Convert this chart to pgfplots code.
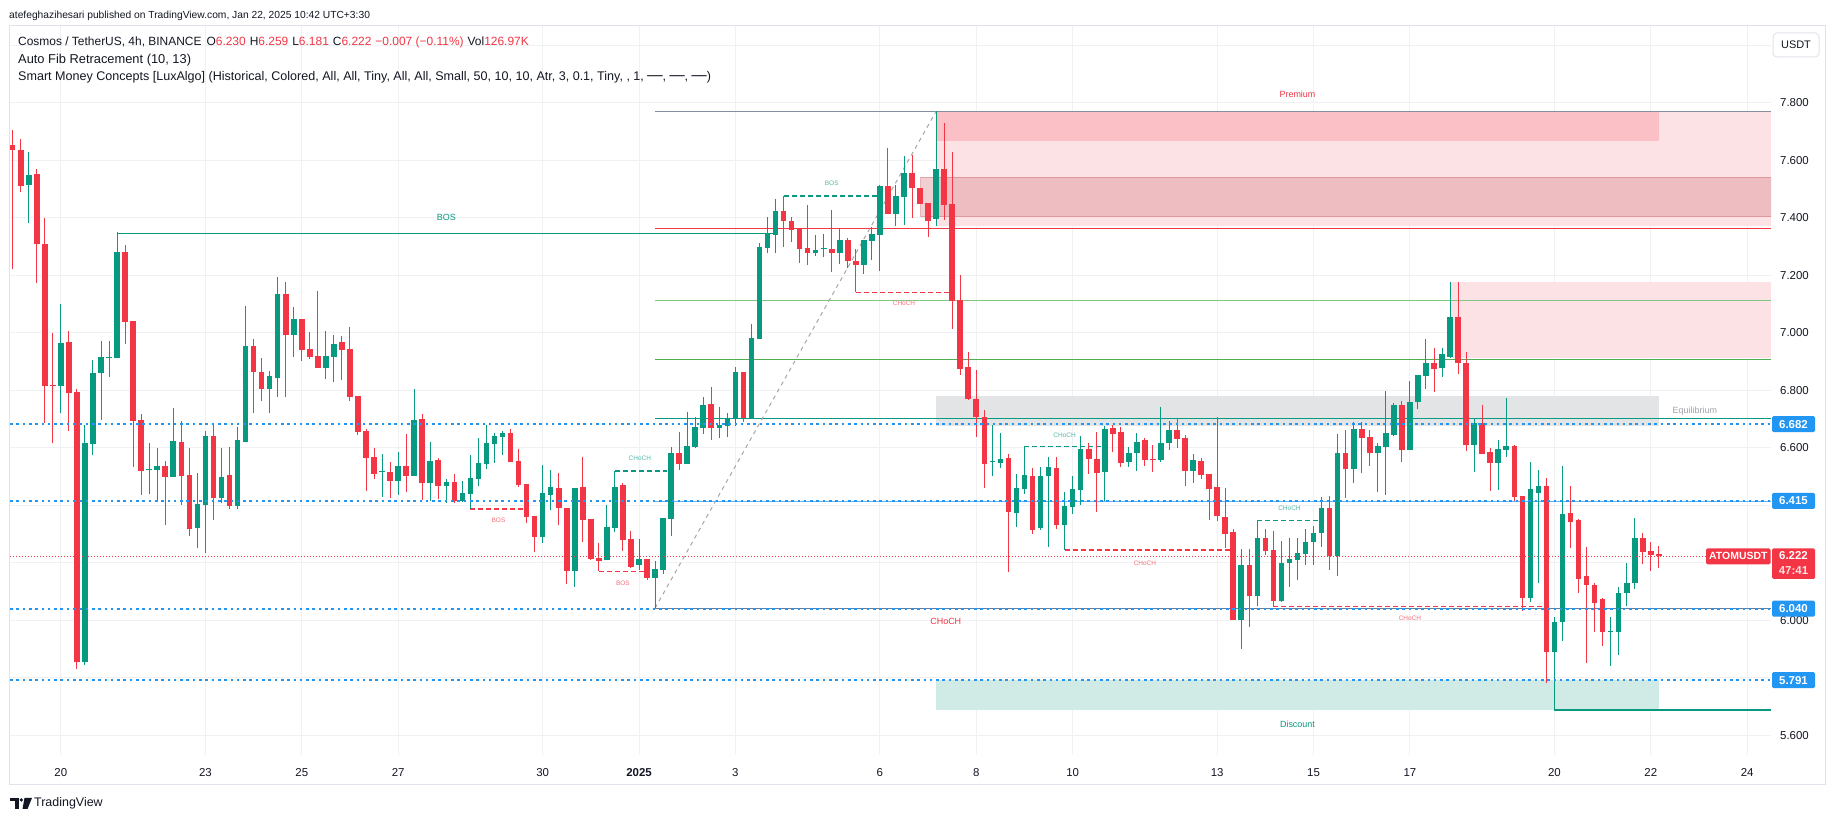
\documentclass[border=0pt]{standalone}
\usepackage{pgfplots}
\pgfplotsset{compat=1.18}
\usepackage{pgfplotstable}
\usepackage{fontspec}
\setmainfont{Liberation Sans}
\newfontfamily\dejavu{DejaVu Sans}
\newcommand{\fs}[1]{\fontsize{#1}{#1}\selectfont}
\definecolor{bull}{RGB}{8,153,129}
\definecolor{bear}{RGB}{242,54,69}
\definecolor{tvblue}{RGB}{33,150,243}
\definecolor{txt}{RGB}{19,23,34}
\definecolor{gridc}{RGB}{240,241,244}
\definecolor{framec}{RGB}{224,227,235}
\definecolor{obpink}{RGB}{252,226,228}
\definecolor{prem}{RGB}{250,192,197}
\definecolor{eqgray}{RGB}{227,228,230}
\definecolor{disc}{RGB}{208,235,229}
\definecolor{fibgray}{RGB}{135,142,160}
\definecolor{fiblgreen}{RGB}{129,199,132}
\definecolor{fibgreen}{RGB}{76,175,80}
\definecolor{fibblue}{RGB}{100,181,246}
\definecolor{mauve}{RGB}{214,130,136}
\definecolor{eqtext}{RGB}{160,163,171}

\pgfplotstableread{
x o h l c
-4 7.514 7.629 7.383 7.549
0 6.816 7.100 6.720 6.963
3 5.856 6.679 5.844 6.617
4 6.614 6.905 6.575 6.860
5 6.860 6.971 6.696 6.916
6 6.914 6.971 6.847 6.916
7 6.913 7.350 6.913 7.280
11 6.522 6.618 6.439 6.523
12 6.523 6.599 6.416 6.537
14 6.498 6.739 6.498 6.624
17 6.321 6.513 6.251 6.404
18 6.401 6.660 6.234 6.642
20 6.425 6.599 6.406 6.498
22 6.397 6.672 6.387 6.627
23 6.621 7.093 6.621 6.954
26 6.804 6.867 6.720 6.851
27 6.844 7.194 6.778 7.135
29 6.992 7.089 6.917 7.047
33 6.878 7.006 6.839 6.919
34 6.917 6.992 6.830 6.961
40 6.515 6.578 6.430 6.517
42 6.486 6.585 6.436 6.537
44 6.503 6.804 6.503 6.697
46 6.477 6.620 6.416 6.554
48 6.467 6.491 6.408 6.481
50 6.415 6.484 6.411 6.443
51 6.439 6.575 6.387 6.495
52 6.491 6.634 6.467 6.547
53 6.544 6.679 6.526 6.617
54 6.613 6.652 6.547 6.641
55 6.638 6.658 6.575 6.652
60 6.290 6.540 6.269 6.443
61 6.436 6.523 6.383 6.464
64 6.171 6.460 6.116 6.460
68 6.210 6.401 6.210 6.324
69 6.321 6.519 6.307 6.464
72 6.192 6.283 6.175 6.213
74 6.147 6.206 6.042 6.178
75 6.175 6.356 6.161 6.356
76 6.352 6.603 6.293 6.582
78 6.544 6.725 6.544 6.606
79 6.603 6.707 6.599 6.672
80 6.669 6.777 6.648 6.749
82 6.669 6.742 6.634 6.679
83 6.676 6.721 6.638 6.700
84 6.702 6.882 6.676 6.863
86 6.705 7.030 6.705 6.982
87 6.979 7.314 6.979 7.300
88 7.296 7.404 7.279 7.344
89 7.340 7.467 7.279 7.424
94 7.277 7.340 7.268 7.289
95 7.293 7.344 7.265 7.295
97 7.277 7.362 7.240 7.322
100 7.237 7.322 7.206 7.322
101 7.320 7.367 7.254 7.344
102 7.341 7.513 7.216 7.510
104 7.415 7.514 7.373 7.476
105 7.474 7.615 7.376 7.556
109 7.397 7.771 7.373 7.570
116 6.550 6.679 6.500 6.554
117 6.548 6.652 6.531 6.561
119 6.374 6.509 6.325 6.460
120 6.458 6.603 6.440 6.505
122 6.319 6.533 6.315 6.502
123 6.500 6.568 6.256 6.533
125 6.332 6.446 6.244 6.397
126 6.395 6.502 6.371 6.457
127 6.453 6.641 6.401 6.596
130 6.516 6.676 6.415 6.665
133 6.551 6.603 6.533 6.582
134 6.582 6.652 6.519 6.620
137 6.557 6.742 6.551 6.617
138 6.617 6.693 6.592 6.662
141 6.519 6.578 6.477 6.557
147 5.999 6.248 5.900 6.193
149 6.085 6.347 6.050 6.286
152 6.067 6.275 6.064 6.198
153 6.198 6.286 6.116 6.212
154 6.209 6.286 6.139 6.233
155 6.230 6.318 6.192 6.272
156 6.272 6.328 6.192 6.303
157 6.304 6.429 6.255 6.391
159 6.223 6.649 6.153 6.581
161 6.526 6.688 6.476 6.665
164 6.583 6.615 6.447 6.607
165 6.603 6.797 6.435 6.652
166 6.644 6.757 6.641 6.750
168 6.592 6.832 6.592 6.759
169 6.759 6.853 6.736 6.853
170 6.849 6.978 6.804 6.895
172 6.876 6.947 6.846 6.926
173 6.916 7.177 6.912 7.055
176 6.610 6.700 6.516 6.686
179 6.548 6.627 6.453 6.595
180 6.593 6.773 6.569 6.606
183 6.076 6.550 6.064 6.456
184 6.442 6.521 6.128 6.466
186 5.890 6.012 5.687 5.994
187 5.992 6.536 5.928 6.369
193 5.957 6.012 5.841 5.959
194 5.957 6.117 5.880 6.096
195 6.096 6.199 6.050 6.129
196 6.128 6.355 6.110 6.286
}\bulltab

\pgfplotstableread{
x o h l c
-6 7.654 7.706 7.222 7.636
-5 7.636 7.674 7.491 7.512
-3 7.553 7.570 7.174 7.309
-2 7.309 7.401 6.685 6.816
-1 6.818 6.998 6.618 6.816
1 6.967 7.006 6.660 6.792
2 6.793 6.804 5.831 5.856
8 7.280 7.306 6.961 7.039
9 7.040 7.040 6.534 6.694
10 6.696 6.717 6.436 6.520
13 6.537 6.555 6.331 6.498
15 6.620 6.693 6.401 6.502
16 6.505 6.599 6.293 6.317
19 6.641 6.682 6.350 6.425
21 6.505 6.603 6.387 6.397
24 6.954 6.978 6.722 6.865
25 6.865 6.913 6.764 6.804
28 7.135 7.177 6.778 6.992
30 7.047 7.047 6.903 6.940
31 6.943 7.003 6.910 6.917
32 6.919 7.145 6.878 6.878
35 6.967 6.989 6.836 6.940
36 6.943 7.020 6.764 6.778
37 6.780 6.780 6.645 6.656
38 6.658 6.667 6.450 6.566
39 6.568 6.598 6.491 6.509
41 6.516 6.551 6.425 6.486
43 6.537 6.648 6.447 6.503
45 6.700 6.717 6.418 6.477
47 6.558 6.565 6.422 6.467
49 6.481 6.509 6.408 6.415
56 6.652 6.665 6.551 6.551
57 6.554 6.596 6.462 6.471
58 6.474 6.474 6.338 6.359
59 6.363 6.363 6.237 6.290
62 6.460 6.512 6.331 6.390
63 6.390 6.390 6.126 6.171
65 6.464 6.568 6.272 6.349
66 6.352 6.352 6.209 6.213
67 6.216 6.269 6.170 6.206
70 6.469 6.476 6.241 6.279
71 6.283 6.310 6.182 6.185
73 6.213 6.213 6.140 6.147
77 6.582 6.655 6.523 6.544
81 6.752 6.812 6.627 6.669
85 6.863 6.863 6.691 6.702
90 7.424 7.476 7.300 7.390
91 7.390 7.404 7.317 7.359
92 7.364 7.364 7.244 7.293
93 7.295 7.444 7.237 7.279
96 7.293 7.427 7.213 7.277
98 7.322 7.330 7.224 7.251
99 7.251 7.293 7.141 7.237
103 7.510 7.642 7.415 7.415
106 7.556 7.620 7.401 7.505
107 7.504 7.504 7.449 7.449
108 7.452 7.452 7.334 7.390
110 7.570 7.729 7.394 7.446
111 7.448 7.629 7.014 7.112
112 7.114 7.201 6.854 6.875
113 6.882 6.934 6.766 6.769
114 6.770 6.870 6.639 6.706
115 6.706 6.732 6.461 6.545
118 6.564 6.578 6.169 6.378
121 6.502 6.530 6.301 6.315
124 6.530 6.568 6.318 6.332
128 6.596 6.617 6.509 6.561
129 6.561 6.655 6.377 6.512
131 6.669 6.679 6.585 6.648
132 6.655 6.672 6.533 6.547
135 6.627 6.634 6.537 6.557
136 6.561 6.610 6.516 6.556
139 6.662 6.700 6.599 6.631
140 6.634 6.645 6.467 6.519
142 6.554 6.565 6.491 6.505
143 6.509 6.509 6.349 6.457
144 6.463 6.708 6.346 6.363
145 6.359 6.460 6.252 6.301
146 6.306 6.318 5.999 5.999
148 6.193 6.247 5.977 6.085
150 6.286 6.317 6.226 6.240
151 6.244 6.310 6.047 6.067
158 6.391 6.432 6.174 6.223
160 6.581 6.661 6.424 6.526
162 6.665 6.688 6.513 6.635
163 6.638 6.661 6.536 6.583
167 6.750 6.761 6.551 6.592
171 6.895 6.947 6.794 6.875
174 7.055 7.177 6.856 6.895
175 6.895 6.933 6.590 6.609
177 6.686 6.749 6.579 6.579
178 6.585 6.599 6.450 6.548
181 6.606 6.609 6.416 6.429
182 6.432 6.432 6.033 6.076
185 6.466 6.494 5.780 5.890
188 6.373 6.467 6.250 6.342
189 6.349 6.353 6.096 6.143
190 6.153 6.255 5.852 6.124
191 6.124 6.128 5.960 6.058
192 6.072 6.076 5.911 5.957
197 6.286 6.303 6.195 6.238
198 6.240 6.272 6.172 6.226
199 6.230 6.259 6.181 6.222
}\beartab

\begin{document}
\begin{tikzpicture}[x=1bp,y=1bp]
\useasboundingbox (0,0) rectangle (1835,821);
\fill[white] (0,0) rectangle (1835,821);
\draw[framec, line width=1bp] (9.5,36) rectangle (1825.5,795);
\begin{axis}[
  at={(10bp,66bp)}, anchor=south west, scale only axis,
  width=1761bp, height=729bp,
  xmin=-6.334, xmax=212.97, ymin=5.5306, ymax=8.068,
  axis line style={draw=none}, tick style={draw=none}, major tick length=0pt,
  xtick={0,18,30,42,60,72,84,102,114,126,144,156,168,186,198,210},
  xticklabels={20,23,25,27,30,\textbf{2025},3,6,8,10,13,15,17,20,22,24},
  ytick={5.6,5.8,6.0,6.2,6.4,6.6,6.8,7.0,7.2,7.4,7.6,7.8,8.0},
  yticklabels={5.600,,6.000,,,6.600,6.800,7.000,7.200,7.400,7.600,7.800,},
  yticklabel pos=right,
  grid=major, grid style={gridc, line width=1bp},
  xticklabel style={anchor=center, yshift=-17.3bp, font=\fs{11.5}, text=txt},
  yticklabel style={anchor=center, xshift=23.5bp, font=\fs{11.5}, text=txt},
]
% ---- zones
\addplot[fill=obpink, draw=none, forget plot] coordinates {(109,7.373)(212.97,7.373)(212.97,7.771)(109,7.771)} --cycle;
\addplot[fill=prem, draw=none, forget plot] coordinates {(109,7.667)(199,7.667)(199,7.771)(109,7.771)} --cycle;
\addplot[fill=mauve, fill opacity=0.38, draw=mauve, draw opacity=0.6, line width=0.8bp, forget plot] coordinates {(107.1,7.404)(212.97,7.404)(212.97,7.541)(107.1,7.541)} --cycle;
\addplot[fill=obpink, draw=none, forget plot] coordinates {(173.1,6.912)(212.97,6.912)(212.97,7.177)(173.1,7.177)} --cycle;
\addplot[fill=eqgray, draw=none, forget plot] coordinates {(109,6.677)(199,6.677)(199,6.781)(109,6.781)} --cycle;
\addplot[fill=disc, draw=none, forget plot] coordinates {(109,5.687)(199,5.687)(199,5.791)(109,5.791)} --cycle;
% ---- fib levels
\addplot[fibgray, line width=1bp, forget plot] coordinates {(74,7.771)(212.97,7.771)};
\addplot[bear, line width=1bp, forget plot] coordinates {(74,7.363)(212.97,7.363)};
\addplot[fiblgreen, line width=1bp, forget plot] coordinates {(74,7.111)(212.97,7.111)};
\addplot[fibgreen, line width=1bp, forget plot] coordinates {(74,6.907)(212.97,6.907)};
\addplot[bull, line width=1bp, forget plot] coordinates {(74,6.702)(212.97,6.702)};
\addplot[fibblue, line width=1bp, forget plot] coordinates {(74,6.412)(212.97,6.412)};
\addplot[fibgray!85!black, line width=1bp, forget plot] coordinates {(74,6.042)(212.97,6.042)};
\addplot[gray!70, line width=1bp, dash pattern=on 4bp off 4bp, forget plot] coordinates {(74,6.042)(109,7.771)};
\addplot[bull, line width=1.2bp, forget plot] coordinates {(186,5.687)(212.97,5.687)};
% ---- structure lines
\addplot[bull, line width=1.2bp, forget plot] coordinates {(7,7.347)(89,7.347)};
\addplot[bear, line width=1.2bp, dash pattern=on 5bp off 3bp, forget plot] coordinates {(51,6.387)(58,6.387)};
\addplot[bear, line width=1.2bp, dash pattern=on 5bp off 3bp, forget plot] coordinates {(67,6.170)(73,6.170)};
\addplot[bull, line width=1.2bp, dash pattern=on 5bp off 3bp, forget plot] coordinates {(69,6.519)(75.5,6.519)};
\addplot[bull, line width=1.2bp, dash pattern=on 5bp off 3bp, forget plot] coordinates {(90,7.476)(102,7.476)};
\addplot[bear, line width=1.2bp, dash pattern=on 5bp off 3bp, forget plot] coordinates {(99,7.141)(111,7.141)};
\addplot[bull, line width=1.2bp, dash pattern=on 5bp off 3bp, forget plot] coordinates {(120,6.603)(130,6.603)};
\addplot[bear, line width=1.2bp, dash pattern=on 5bp off 3bp, forget plot] coordinates {(125,6.244)(146,6.244)};
\addplot[bull, line width=1.2bp, dash pattern=on 5bp off 3bp, forget plot] coordinates {(149,6.347)(157,6.347)};
\addplot[bear, line width=1.2bp, dash pattern=on 5bp off 3bp, forget plot] coordinates {(151,6.047)(185,6.047)};
% ---- candles: wicks
\addplot[forget plot, draw=none, mark=none, error bars/.cd, y dir=plus, y explicit, error mark=none,
  error bar style={line width=1bp, draw=bull}] table[x=x, y=l, y error expr=\thisrow{h}-\thisrow{l}] {\bulltab};
\addplot[forget plot, draw=none, mark=none, error bars/.cd, y dir=plus, y explicit, error mark=none,
  error bar style={line width=1bp, draw=bear}] table[x=x, y=l, y error expr=\thisrow{h}-\thisrow{l}] {\beartab};
% ---- candles: bodies
\addplot[forget plot, draw=none, mark=none, error bars/.cd, y dir=plus, y explicit, error mark=none,
  error bar style={line width=5.6bp, draw=bull}] table[x=x, y=o, y error expr={max(\thisrow{c}-\thisrow{o},0.0035)}] {\bulltab};
\addplot[forget plot, draw=none, mark=none, error bars/.cd, y dir=plus, y explicit, error mark=none,
  error bar style={line width=5.6bp, draw=bear}] table[x=x, y=c, y error expr={max(\thisrow{o}-\thisrow{c},0.0035)}] {\beartab};
% ---- horizontal user lines
\addplot[tvblue, line width=2bp, dash pattern=on 2.6bp off 3.7bp, forget plot] coordinates {(-6.334,6.682)(212.97,6.682)};
\addplot[tvblue, line width=2bp, dash pattern=on 2.6bp off 3.7bp, forget plot] coordinates {(-6.334,6.415)(212.97,6.415)};
\addplot[tvblue, line width=2bp, dash pattern=on 2.6bp off 3.7bp, forget plot] coordinates {(-6.334,6.040)(212.97,6.040)};
\addplot[tvblue, line width=2bp, dash pattern=on 2.6bp off 3.7bp, forget plot] coordinates {(-6.334,5.791)(212.97,5.791)};
\addplot[bear, line width=1bp, dash pattern=on 1.4bp off 1.6bp, forget plot] coordinates {(-6.334,6.222)(205,6.222)};
% ---- labels
\node[font=\fs{9}, text=bull] at (axis cs:48,7.400) {BOS};
\node[font=\fs{6.5}, text=bear!70] at (axis cs:54.5,6.349) {BOS};
\node[font=\fs{6.5}, text=bear!70] at (axis cs:70,6.128) {BOS};
\node[font=\fs{6.5}, text=bull!70] at (axis cs:72.1,6.562) {CHoCH};
\node[font=\fs{6.5}, text=bull!70] at (axis cs:96,7.520) {BOS};
\node[font=\fs{6.5}, text=bear!70] at (axis cs:105,7.104) {CHoCH};
\node[font=\fs{6.5}, text=bull!70] at (axis cs:125,6.642) {CHoCH};
\node[font=\fs{6.5}, text=bear!70] at (axis cs:135,6.199) {CHoCH};
\node[font=\fs{6.5}, text=bull!70] at (axis cs:153,6.390) {CHoCH};
\node[font=\fs{6.5}, text=bear!70] at (axis cs:168,6.006) {CHoCH};
\node[font=\fs{9}, text=bear] at (axis cs:110.2,5.995) {CHoCH};
\node[font=\fs{9}, text=bear] at (axis cs:154,7.829) {Premium};
\node[font=\fs{9}, text=bull] at (axis cs:154,5.637) {Discount};
\node[font=\fs{9}, text=eqtext, anchor=west, inner sep=0pt] at (axis cs:200.7,6.729) {Equilibrium};
\end{axis}
% ---- right price boxes
\fill[tvblue, rounded corners=1.5bp] (1772,388.8) rectangle (1815,404.8);
\node[white, font=\bfseries\fs{11.5}] at (1793.5,396.8) {6.682};
\fill[tvblue, rounded corners=1.5bp] (1772,312.1) rectangle (1815,328.1);
\node[white, font=\bfseries\fs{11.5}] at (1793.5,320.1) {6.415};
\fill[tvblue, rounded corners=1.5bp] (1772,204.4) rectangle (1815,220.4);
\node[white, font=\bfseries\fs{11.5}] at (1793.5,212.4) {6.040};
\fill[tvblue, rounded corners=1.5bp] (1772,132.8) rectangle (1815,148.8);
\node[white, font=\bfseries\fs{11.5}] at (1793.5,140.8) {5.791};
\fill[bear, rounded corners=1.5bp] (1772,242) rectangle (1815,272.7);
\node[white, font=\bfseries\fs{11.5}] at (1793.5,265) {6.222};
\node[white!85!bear, font=\bfseries\fs{11.5}] at (1793.5,250) {47:41};
\fill[bear, rounded corners=1.5bp] (1706,256.6) rectangle (1770.5,272.7);
\node[white, font=\bfseries\fs{10.5}] at (1738.3,264.6) {ATOMUSDT};
% ---- USDT button
\draw[framec, fill=white, rounded corners=4bp, line width=1bp] (1773,764) rectangle (1819,788);
\node[text=txt, font=\fs{11}] at (1796,776) {USDT};
% ---- legend
\node[anchor=west, inner sep=0pt, text=txt, font=\fs{12}] at (18,778.3) {Cosmos / TetherUS, 4h, BINANCE\hspace{5bp}O\textcolor{bear}{6.230}\hspace{4bp}H\textcolor{bear}{6.259}\hspace{4bp}L\textcolor{bear}{6.181}\hspace{4bp}C\textcolor{bear}{6.222}\hspace{4bp}\textcolor{bear}{−0.007 (−0.11\%)}\hspace{4bp}Vol\textcolor{bear}{126.97K}};
\node[anchor=west, inner sep=0pt, text=txt, font=\fs{12.9}] at (18,761) {Auto Fib Retracement (10, 13)};
\node[anchor=west, inner sep=0pt, text=txt, font=\fs{12.6}] at (18,743.7) {Smart Money Concepts [LuxAlgo] (Historical, Colored, All, All, Tiny, All, All, Small, 50, 10, 10, Atr, 3, 0.1, Tiny, , 1, {\dejavu ──}, {\dejavu ──}, {\dejavu ──})};
% ---- publisher line
\node[anchor=west, inner sep=0pt, text=txt, font=\fs{10.3}] at (9,805) {atefeghazihesari published on TradingView.com, Jan 22, 2025 10:42 UTC+3:30};
% ---- TradingView logo
\fill[txt] (10,20) rectangle (18.5,23);
\fill[txt] (14.5,12) rectangle (18.5,23);
\fill[txt] (21.3,21) circle (1.8);
\fill[txt] (24.5,23) -- (32,23) -- (27.5,12) -- (22.5,12) -- cycle;
\node[anchor=west, inner sep=0pt, text=txt, font=\fs{12.5}] at (34,18) {TradingView};
\end{tikzpicture}
\end{document}
